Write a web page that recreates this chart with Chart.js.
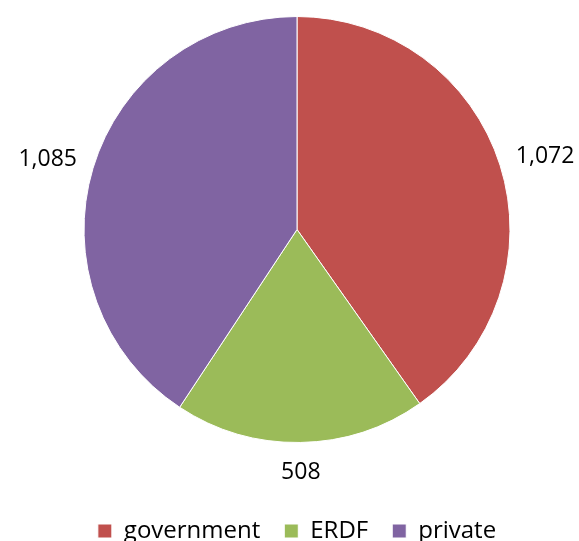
<!DOCTYPE html>
<html>
<head>
<meta charset="utf-8">
<script src="https://cdn.jsdelivr.net/npm/chart.js@4/dist/chart.umd.min.js"></script>
<style>
  html, body { margin: 0; padding: 0; background: #fff; }
  #wrap { width: 579px; height: 541px; position: relative; }
</style>
</head>
<body>
<div id="wrap"><canvas id="c" width="579" height="541"></canvas></div>
<script>
const categories = ['government', 'ERDF', 'private'];
const values = [1072, 508, 1085];
const colors = ['#C0504D', '#9BBB59', '#8064A2'];

const FONT = 'Open Sans';
const LABEL_SIZE = 23;
const LEGEND_SIZE = 24;

const legendHeightPlugin = {
  id: 'legendHeight',
  beforeInit(chart) {
    const orig = chart.legend.fit;
    chart.legend.fit = function () {
      orig.call(this);
      this.height = 98;
    };
  }
};

const outsideLabels = {
  id: 'outsideLabels',
  afterDatasetsDraw(chart) {
    const ctx = chart.ctx;
    const meta = chart.getDatasetMeta(0);
    ctx.save();
    ctx.font = LABEL_SIZE + 'px "' + FONT + '"';
    ctx.fillStyle = '#000';
    ctx.textAlign = 'center';
    ctx.textBaseline = 'middle';
    const gap = 18;
    meta.data.forEach((arc, i) => {
      const p = arc.getProps(['x', 'y', 'startAngle', 'endAngle', 'outerRadius'], true);
      const mid = (p.startAngle + p.endAngle) / 2;
      const ux = Math.cos(mid), uy = Math.sin(mid);
      const text = values[i].toLocaleString('en-US');
      const w = ctx.measureText(text).width;
      const h = LABEL_SIZE;
      const ax = p.x + ux * (p.outerRadius + gap);
      const ay = p.y + uy * (p.outerRadius + gap);
      ctx.fillText(text, ax + ux * w / 2, ay + uy * h / 2);
    });
    ctx.restore();
  }
};

new Chart(document.getElementById('c'), {
  type: 'pie',
  data: {
    labels: categories,
    datasets: [{
      data: values,
      backgroundColor: colors,
      borderColor: '#ffffff',
      borderWidth: 1
    }]
  },
  options: {
    responsive: false,
    animation: false,
    layout: { padding: { top: 16, left: 15, right: 0, bottom: 0 } },
    plugins: {
      tooltip: { enabled: false },
      legend: {
        position: 'bottom',
        title: { display: true, text: '', font: { size: 10 }, padding: { top: 22, bottom: 18 } },
        labels: {
          boxWidth: 14,
          boxHeight: 14,
          padding: 24,
          color: '#000',
          font: { family: FONT, size: LEGEND_SIZE }
        }
      }
    }
  },
  plugins: [legendHeightPlugin, outsideLabels]
});
</script>
</body>
</html>
